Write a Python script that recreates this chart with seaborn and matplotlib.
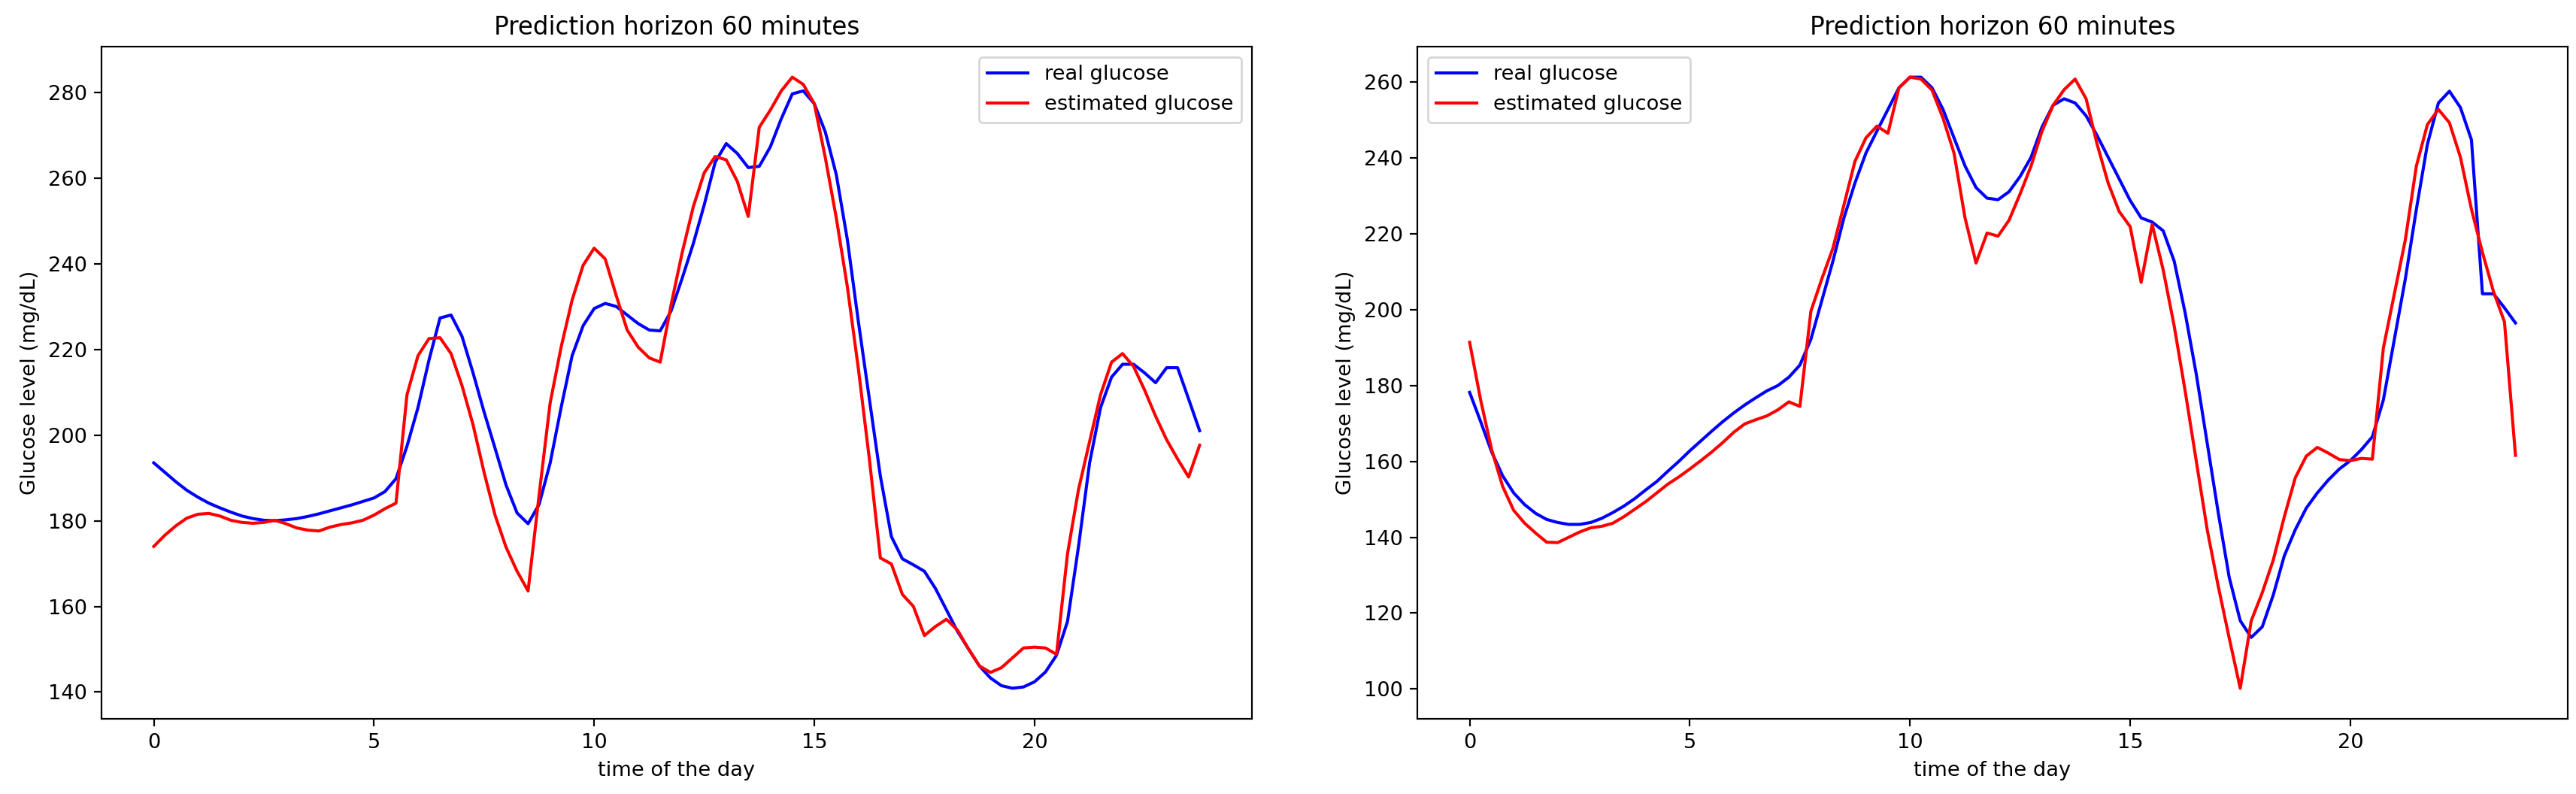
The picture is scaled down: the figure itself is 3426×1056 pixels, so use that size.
import numpy as np
import matplotlib
matplotlib.use("Agg")
import matplotlib.pyplot as plt
import seaborn as sns

# 15-minute grid over the day
hours = np.arange(0, 24, 0.25)

# Left panel
left_real = [
    193.5, 191.3, 189.1, 187.1, 185.5, 184.1, 183.0, 182.0, 181.1, 180.5, 180.1, 180.0,
    180.2, 180.5, 181.0, 181.6, 182.3, 183.0, 183.7, 184.5, 185.3, 186.8, 189.8, 197.4,
    206.4, 217.5, 227.3, 228.0, 223.0, 214.5, 205.4, 196.9, 188.3, 181.8, 179.3, 183.8,
    193.4, 206.4, 218.5, 225.5, 229.5, 230.7, 230.0, 228.0, 226.0, 224.5, 224.3, 229.0,
    236.6, 244.6, 253.7, 263.7, 268.0, 265.7, 262.4, 262.7, 267.2, 273.8, 279.6, 280.3,
    277.3, 270.7, 260.7, 245.6, 226.5, 208.4, 190.4, 176.3, 171.1, 169.7, 168.2, 164.2,
    159.2, 154.2, 150.1, 146.1, 143.3, 141.5, 140.9, 141.2, 142.4, 144.7, 148.6, 156.5,
    174.0, 193.4, 206.4, 213.5, 216.5, 216.5, 214.5, 212.2, 215.7, 215.7, 208.4, 201.0,
]
left_est = [
    174.0, 176.6, 178.8, 180.6, 181.5, 181.7, 181.1, 180.1, 179.6, 179.4, 179.6, 180.1,
    179.3, 178.3, 177.8, 177.6, 178.5, 179.1, 179.5, 180.1, 181.3, 182.8, 184.1, 209.4,
    218.5, 222.5, 222.7, 219.0, 211.5, 202.4, 191.3, 181.3, 173.8, 168.2, 163.6, 186.0,
    207.4, 220.5, 231.5, 239.6, 243.6, 241.1, 232.6, 224.5, 220.5, 218.0, 217.0, 230.5,
    242.6, 253.2, 261.2, 265.0, 264.2, 259.2, 251.0, 271.8, 275.8, 280.3, 283.5, 281.8,
    277.3, 264.7, 250.6, 234.6, 215.5, 194.4, 171.3, 169.9, 162.8, 160.0, 153.2, 155.3,
    157.0, 154.5, 150.1, 146.1, 144.6, 145.7, 148.0, 150.3, 150.5, 150.3, 148.8, 172.3,
    187.3, 198.4, 209.4, 217.0, 219.0, 216.0, 210.5, 204.4, 198.9, 194.4, 190.2, 197.6,
]

# Right panel
right_real = [
    178.2, 170.5, 162.5, 156.2, 151.7, 148.6, 146.3, 144.7, 143.9, 143.4, 143.4, 143.9,
    145.0, 146.5, 148.2, 150.2, 152.5, 154.7, 157.4, 160.0, 162.8, 165.4, 168.0, 170.5,
    172.8, 174.9, 176.8, 178.6, 180.0, 182.2, 185.4, 192.2, 202.5, 212.8, 224.2, 233.4,
    241.3, 247.1, 252.8, 258.5, 261.3, 261.3, 258.5, 252.8, 245.3, 237.9, 232.2, 229.4,
    229.0, 231.1, 235.1, 240.2, 248.2, 253.9, 255.6, 254.5, 251.1, 245.9, 240.2, 234.5,
    228.8, 224.2, 223.1, 220.8, 212.8, 199.1, 183.1, 164.8, 146.5, 129.4, 118.0, 113.6,
    116.4, 124.8, 135.1, 142.0, 147.7, 151.7, 155.1, 158.0, 160.2, 163.1, 166.5, 176.2,
    192.2, 208.2, 226.5, 243.6, 254.5, 257.6, 253.3, 244.8, 204.2, 204.2, 200.5, 196.5,
]
right_est = [
    191.4, 176.2, 163.1, 153.4, 147.1, 143.7, 141.1, 138.7, 138.6, 140.0, 141.4, 142.5,
    142.9, 143.7, 145.4, 147.4, 149.4, 151.7, 154.0, 155.9, 158.0, 160.2, 162.5, 165.0,
    167.7, 169.9, 171.0, 172.0, 173.6, 175.7, 174.5, 199.6, 208.2, 216.2, 227.6, 239.1,
    245.3, 248.4, 246.5, 258.5, 261.3, 260.8, 257.9, 250.5, 241.3, 224.2, 212.3, 220.2,
    219.4, 223.6, 230.5, 237.9, 247.1, 253.9, 258.0, 260.8, 255.6, 243.6, 233.4, 225.9,
    221.9, 207.2, 222.5, 210.5, 195.7, 178.5, 160.2, 142.0, 127.1, 113.4, 100.2, 118.0,
    125.4, 134.0, 145.4, 155.7, 161.4, 163.7, 162.2, 160.5, 160.2, 160.8, 160.6, 189.9,
    204.2, 218.5, 237.9, 248.8, 252.8, 249.3, 240.2, 226.5, 215.1, 204.8, 196.8, 161.6,
]

panels = [
    (left_real, left_est, "upper right"),
    (right_real, right_est, "upper left"),
]

DPI = 196
fig, axes = plt.subplots(1, 2, figsize=(3426 / DPI, 1056 / DPI), dpi=DPI)
fig.subplots_adjust(left=0.0394, right=0.9968, bottom=0.0947, top=0.9413, wspace=0.1438)

for ax, (real, est, loc) in zip(axes, panels):
    sns.lineplot(x=hours, y=real, color="blue", label="real glucose", ax=ax)
    sns.lineplot(x=hours, y=est, color="red", label="estimated glucose", ax=ax)
    ax.set_title("Prediction horizon 60 minutes")
    ax.set_xlabel("time of the day")
    ax.set_ylabel("Glucose level (mg/dL)")
    ax.legend(loc=loc)

fig.savefig("out.png", dpi=DPI)
